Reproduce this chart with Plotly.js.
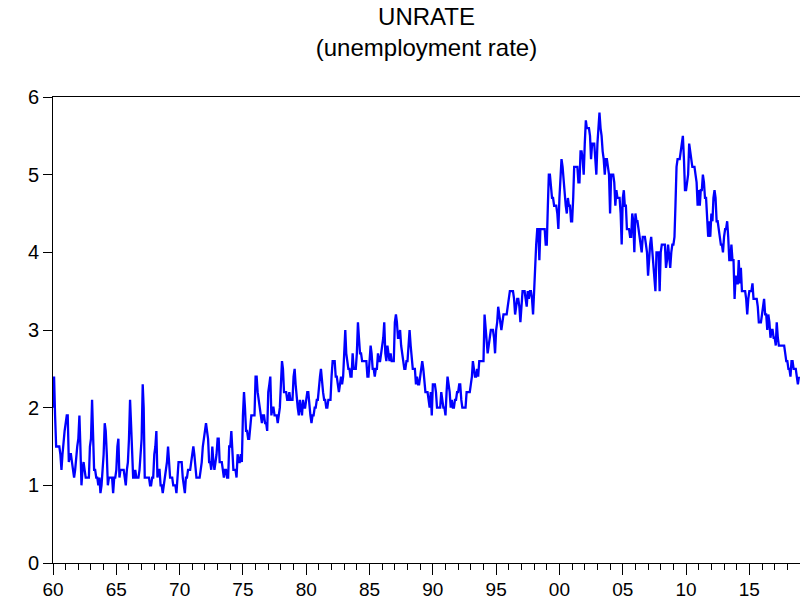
<!DOCTYPE html>
<html>
<head>
<meta charset="utf-8">
<script src="https://cdn.plot.ly/plotly-3.0.1.min.js"></script>
<style>
  html, body { margin: 0; padding: 0; background: #ffffff; }
  #chart { width: 800px; height: 601px; }
</style>
</head>
<body>
<div id="chart"></div>
<script>
// Monthly unemployment rate (%), Jan 1960 - Dec 2018
const startYear = 1960;

const rate1960s = [
  2.0, 2.4, 1.9, 1.5, 1.5, 1.5, 1.5, 1.4, 1.2, 1.4, 1.6, 1.7,
  1.8, 1.9, 1.9, 1.3, 1.4, 1.4, 1.3, 1.2, 1.1, 1.2, 1.4, 1.5,
  1.6, 1.9, 1.5, 1.0, 1.2, 1.3, 1.2, 1.1, 1.1, 1.1, 1.1, 1.5,
  1.6, 2.1, 1.6, 1.2, 1.2, 1.1, 1.1, 1.0, 1.1, 0.9, 1.0, 1.2,
  1.4, 1.8, 1.7, 1.4, 1.0, 1.1, 1.1, 1.1, 1.1, 0.9, 1.1, 1.1,
  1.2, 1.5, 1.6, 1.1, 1.2, 1.2, 1.2, 1.2, 1.1, 1.0, 1.2, 1.3,
  1.6, 2.1, 1.8, 1.3, 1.1, 1.1, 1.2, 1.1, 1.1, 1.1, 1.2, 1.5,
  1.6, 2.3, 2.0, 1.1, 1.1, 1.1, 1.1, 1.1, 1.0, 1.0, 1.1, 1.1,
  1.4, 1.5, 1.7, 1.1, 1.2, 1.2, 1.0, 1.0, 0.9, 1.0, 1.1, 1.2,
  1.3, 1.5, 1.3, 1.1, 1.1, 1.1, 1.0, 1.0, 1.0, 0.9, 1.2, 1.3
];
const rate1970s = [
  1.3, 1.3, 1.3, 1.1, 1.0, 0.9, 1.1, 1.1, 1.2, 1.2, 1.2, 1.3,
  1.4, 1.5, 1.4, 1.2, 1.1, 1.1, 1.1, 1.1, 1.2, 1.3, 1.5, 1.6,
  1.7, 1.8, 1.7, 1.6, 1.3, 1.3, 1.2, 1.5, 1.3, 1.2, 1.3, 1.4,
  1.6, 1.6, 1.3, 1.3, 1.3, 1.2, 1.1, 1.2, 1.2, 1.1, 1.1, 1.5,
  1.5, 1.7, 1.4, 1.2, 1.2, 1.2, 1.1, 1.4, 1.3, 1.3, 1.4, 1.3,
  1.9, 2.2, 2.0, 1.7, 1.7, 1.6, 1.6, 1.8, 1.9, 1.9, 1.9, 1.9,
  2.4, 2.4, 2.2, 2.1, 2.0, 1.9, 1.8, 1.9, 1.9, 1.8, 1.8, 1.7,
  2.2, 2.3, 2.4, 1.9, 2.0, 2.0, 1.9, 1.9, 1.9, 1.8, 1.9, 2.0,
  2.3, 2.6, 2.5, 2.2, 2.2, 2.2, 2.1, 2.1, 2.2, 2.1, 2.1, 2.1,
  2.4, 2.5, 2.3, 2.1, 2.0, 1.9, 2.1, 2.0, 1.9, 2.1, 2.0, 2.0
];
const rate1980s = [
  2.1, 2.2, 2.2, 2.0, 1.9, 1.8, 1.9, 1.9, 2.0, 2.0, 2.1, 2.1,
  2.3, 2.4, 2.5, 2.3, 2.2, 2.1, 2.1, 2.0, 2.0, 2.1, 2.1, 2.1,
  2.4, 2.6, 2.6, 2.6, 2.4, 2.4, 2.3, 2.2, 2.3, 2.4, 2.3, 2.4,
  2.7, 3.0, 2.7, 2.6, 2.5, 2.5, 2.4, 2.4, 2.7, 2.5, 2.5, 2.5,
  2.7, 3.1, 2.9, 2.7, 2.7, 2.6, 2.6, 2.6, 2.6, 2.6, 2.4, 2.4,
  2.6, 2.8, 2.7, 2.5, 2.5, 2.4, 2.5, 2.5, 2.7, 2.6, 2.6, 2.7,
  2.8, 2.9, 3.1, 2.7, 2.6, 2.8, 2.7, 2.6, 2.7, 2.6, 2.6, 2.6,
  3.1, 3.2, 3.1, 2.9, 2.9, 3.0, 2.8, 2.7, 2.6, 2.5, 2.5, 2.6,
  2.6, 2.8, 3.0, 2.8, 2.6, 2.5, 2.5, 2.5, 2.3, 2.4, 2.3, 2.3,
  2.4, 2.5, 2.6, 2.5, 2.3, 2.2, 2.2, 2.2, 2.1, 2.0, 2.2, 1.9
];
const rate1990s = [
  2.3, 2.3, 2.3, 2.2, 2.0, 2.0, 2.0, 2.0, 2.2, 2.1, 2.0, 2.0,
  1.9, 2.2, 2.4, 2.3, 2.2, 2.0, 2.1, 2.0, 2.0, 2.1, 2.1, 2.2,
  2.2, 2.3, 2.3, 2.1, 2.0, 2.0, 2.0, 2.0, 2.2, 2.2, 2.2, 2.2,
  2.3, 2.4, 2.6, 2.5, 2.4, 2.4, 2.5, 2.4, 2.6, 2.6, 2.6, 2.6,
  2.6, 3.2, 3.0, 2.9, 2.7, 2.8, 2.9, 3.0, 3.0, 3.0, 2.9, 2.7,
  3.0, 3.1, 3.3, 3.2, 3.1, 3.0, 3.1, 3.2, 3.2, 3.2, 3.2, 3.3,
  3.4, 3.5, 3.5, 3.5, 3.5, 3.4, 3.2, 3.3, 3.4, 3.4, 3.3, 3.1,
  3.3, 3.5, 3.5, 3.5, 3.4, 3.3, 3.5, 3.4, 3.5, 3.5, 3.4, 3.2,
  3.5, 3.9, 4.1, 4.3, 4.3, 3.9, 4.3, 4.3, 4.3, 4.3, 4.3, 4.1,
  4.1, 4.6, 5.0, 5.0, 4.8, 4.7, 4.7, 4.6, 4.6, 4.6, 4.5, 4.3
];
const rate2000s = [
  4.7, 4.9, 5.2, 5.1, 4.9, 4.8, 4.6, 4.5, 4.7, 4.6, 4.6, 4.4,
  4.4, 4.7, 5.1, 5.1, 5.1, 5.1, 4.9, 4.9, 5.3, 5.3, 5.2, 5.0,
  5.4, 5.7, 5.6, 5.6, 5.6, 5.5, 5.2, 5.4, 5.4, 5.4, 5.2, 5.0,
  5.4, 5.6, 5.8, 5.6, 5.5, 5.3, 5.2, 5.0, 5.2, 5.2, 5.1, 5.0,
  4.5, 5.0, 5.0, 5.0, 4.9, 4.6, 4.8, 4.7, 4.7, 4.7, 4.5, 4.1,
  4.7, 4.8, 4.6, 4.6, 4.3, 4.3, 4.3, 4.2, 4.2, 4.5, 4.4, 4.0,
  4.5, 4.4, 4.4, 4.3, 4.2, 4.1, 4.0, 4.2, 4.2, 4.2, 4.1, 4.0,
  3.7, 4.0, 4.1, 4.2, 4.0, 3.8, 3.6, 3.5, 4.0, 4.0, 4.0, 3.5,
  4.0, 4.1, 4.1, 4.1, 4.1, 3.8, 3.9, 4.1, 3.9, 3.8, 4.0, 4.1,
  4.1, 4.2, 4.6, 5.1, 5.2, 5.2, 5.2, 5.3, 5.4, 5.5, 5.2, 4.8
];
const rate2010s = [
  4.8, 4.9, 5.0, 5.4, 5.3, 5.2, 5.1, 5.1, 5.1, 5.0, 4.9, 4.6,
  4.8, 4.6, 4.8, 4.8, 5.0, 4.9, 4.7, 4.7, 4.5, 4.2, 4.4, 4.2,
  4.5, 4.4, 4.7, 4.8, 4.7, 4.4, 4.4, 4.3, 4.2, 4.1, 4.1, 4.0,
  4.2, 4.3, 4.3, 4.4, 4.2, 3.9, 3.9, 4.1, 3.9, 3.9, 3.4, 3.7,
  3.6, 3.6, 3.9, 3.6, 3.8, 3.5, 3.5, 3.5, 3.5, 3.4, 3.2, 3.4,
  3.5, 3.5, 3.5, 3.6, 3.4, 3.4, 3.4, 3.4, 3.3, 3.1, 3.1, 3.1,
  3.2, 3.3, 3.4, 3.2, 3.2, 3.0, 3.2, 3.1, 2.9, 3.0, 3.0, 2.9,
  2.9, 2.8, 3.1, 2.9, 2.8, 2.8, 2.8, 2.8, 2.8, 2.8, 2.7, 2.6,
  2.6, 2.5, 2.5, 2.4, 2.6, 2.6, 2.5, 2.5, 2.5, 2.4, 2.3, 2.4
];

const yTickVals = [0, 1, 2, 3, 4, 5, 6];
const chartTitle = 'UNRATE<br>(unemployment rate)';

const values = [].concat(rate1960s, rate1970s, rate1980s, rate1990s, rate2000s, rate2010s);
const dates = values.map(function (v, i) {
  const y = startYear + Math.floor(i / 12);
  const m = (i % 12) + 1;
  return y + '-' + (m < 10 ? '0' + m : m) + '-01';
});

const fontFam = 'Liberation Sans, Arial, sans-serif';

const trace = {
  x: dates,
  y: values,
  type: 'scatter',
  mode: 'lines',
  line: { color: '#0000ff', width: 2.3 },
  hoverinfo: 'x+y'
};

const layout = {
  width: 800,
  height: 601,
  margin: { l: 53, r: 0, t: 97, b: 38, pad: 0 },
  paper_bgcolor: '#ffffff',
  plot_bgcolor: '#ffffff',
  showlegend: false,
  font: { family: fontFam, color: '#000000', size: 19 },
  title: {
    text: chartTitle,
    font: { family: fontFam, size: 24, color: '#000000' },
    x: 0.5, xref: 'paper', xanchor: 'center',
    y: 0.958, yref: 'container', yanchor: 'top'
  },
  xaxis: {
    type: 'date',
    range: ['1960-01-01', '2019-01-01'],
    tickmode: 'linear',
    tick0: '1960-01-01',
    dtick: 'M60',
    tickformat: '%y',
    ticks: 'outside',
    ticklen: 11,
    tickwidth: 1,
    tickcolor: '#000000',
    minor: { dtick: 'M12', ticks: 'outside', ticklen: 6, tickwidth: 1, tickcolor: '#000000' },
    showline: true,
    linecolor: '#000000',
    linewidth: 1,
    mirror: true,
    showgrid: false,
    zeroline: false,
    ticklabelstandoff: -2,
    tickfont: { family: fontFam, size: 19, color: '#000000' }
  },
  yaxis: {
    range: [0, 6],
    tickmode: 'array',
    tickvals: yTickVals,
    ticks: 'outside',
    ticklen: 9,
    tickwidth: 1,
    tickcolor: '#000000',
    showline: true,
    linecolor: '#000000',
    linewidth: 1,
    showgrid: false,
    zeroline: false,
    tickfont: { family: fontFam, size: 20, color: '#000000' }
  }
};

Plotly.newPlot('chart', [trace], layout, { displayModeBar: false, staticPlot: true });
</script>
</body>
</html>
